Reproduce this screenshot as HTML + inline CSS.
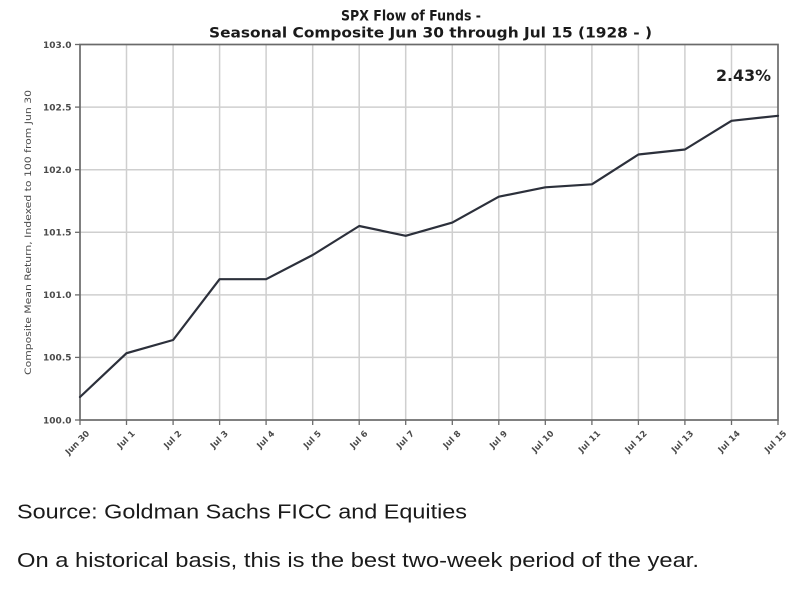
<!DOCTYPE html>
<html>
<head>
<meta charset="utf-8">
<style>
  html, body { margin: 0; padding: 0; background: #ffffff; }
  body { width: 809px; height: 590px; overflow: hidden; }
  svg { display: block; }
</style>
</head>
<body>
<svg width="809" height="590" viewBox="0 0 809 590" xmlns="http://www.w3.org/2000/svg">
  <rect x="0" y="0" width="809" height="590" fill="#ffffff"/>

  <!-- Title -->
  <text x="341" y="20.5" font-family="DejaVu Sans, sans-serif" font-weight="bold" font-size="14" fill="#1a1a1a" textLength="140" lengthAdjust="spacingAndGlyphs">SPX Flow of Funds -</text>
  <text x="209" y="37.5" font-family="DejaVu Sans, sans-serif" font-weight="bold" font-size="14" fill="#1a1a1a" textLength="443" lengthAdjust="spacingAndGlyphs">Seasonal Composite Jun 30 through Jul 15 (1928 - )</text>

  <!-- Grid -->
  <g stroke="#cfcfcf" stroke-width="1.5">
    <line x1="80" y1="107.1" x2="778" y2="107.1"/>
    <line x1="80" y1="169.7" x2="778" y2="169.7"/>
    <line x1="80" y1="232.3" x2="778" y2="232.3"/>
    <line x1="80" y1="294.9" x2="778" y2="294.9"/>
    <line x1="80" y1="357.4" x2="778" y2="357.4"/>

    <line x1="126.5" y1="44.5" x2="126.5" y2="420"/>
    <line x1="173.1" y1="44.5" x2="173.1" y2="420"/>
    <line x1="219.6" y1="44.5" x2="219.6" y2="420"/>
    <line x1="266.1" y1="44.5" x2="266.1" y2="420"/>
    <line x1="312.7" y1="44.5" x2="312.7" y2="420"/>
    <line x1="359.2" y1="44.5" x2="359.2" y2="420"/>
    <line x1="405.7" y1="44.5" x2="405.7" y2="420"/>
    <line x1="452.3" y1="44.5" x2="452.3" y2="420"/>
    <line x1="498.8" y1="44.5" x2="498.8" y2="420"/>
    <line x1="545.3" y1="44.5" x2="545.3" y2="420"/>
    <line x1="591.9" y1="44.5" x2="591.9" y2="420"/>
    <line x1="638.4" y1="44.5" x2="638.4" y2="420"/>
    <line x1="684.9" y1="44.5" x2="684.9" y2="420"/>
    <line x1="731.5" y1="44.5" x2="731.5" y2="420"/>
  </g>

  <!-- Spines -->
  <rect x="80" y="44.5" width="698" height="375.5" fill="none" stroke="#6a6a6a" stroke-width="1.7"/>

  <!-- Y ticks -->
  <g stroke="#6a6a6a" stroke-width="1.3">
    <line x1="75" y1="44.5" x2="80" y2="44.5"/>
    <line x1="75" y1="107.1" x2="80" y2="107.1"/>
    <line x1="75" y1="169.7" x2="80" y2="169.7"/>
    <line x1="75" y1="232.3" x2="80" y2="232.3"/>
    <line x1="75" y1="294.9" x2="80" y2="294.9"/>
    <line x1="75" y1="357.4" x2="80" y2="357.4"/>
    <line x1="75" y1="420" x2="80" y2="420"/>
  </g>
  <g font-family="DejaVu Sans, sans-serif" font-size="9" font-weight="bold" fill="#4a4a4a" text-anchor="end">
    <text x="71.5" y="47.8">103.0</text>
    <text x="71.5" y="110.4">102.5</text>
    <text x="71.5" y="173">102.0</text>
    <text x="71.5" y="235.6">101.5</text>
    <text x="71.5" y="298.2">101.0</text>
    <text x="71.5" y="360.7">100.5</text>
    <text x="71.5" y="423.3">100.0</text>
  </g>

  <!-- Y label -->
  <text transform="translate(31,232.5) rotate(-90)" text-anchor="middle" font-family="DejaVu Sans, sans-serif" font-size="8.5" fill="#4a4a4a" textLength="285" lengthAdjust="spacingAndGlyphs">Composite Mean Return, Indexed to 100 from Jun 30</text>

  <!-- X ticks -->
  <g stroke="#6a6a6a" stroke-width="1.3">
    <line x1="80" y1="420" x2="80" y2="425"/>
    <line x1="126.5" y1="420" x2="126.5" y2="425"/>
    <line x1="173.1" y1="420" x2="173.1" y2="425"/>
    <line x1="219.6" y1="420" x2="219.6" y2="425"/>
    <line x1="266.1" y1="420" x2="266.1" y2="425"/>
    <line x1="312.7" y1="420" x2="312.7" y2="425"/>
    <line x1="359.2" y1="420" x2="359.2" y2="425"/>
    <line x1="405.7" y1="420" x2="405.7" y2="425"/>
    <line x1="452.3" y1="420" x2="452.3" y2="425"/>
    <line x1="498.8" y1="420" x2="498.8" y2="425"/>
    <line x1="545.3" y1="420" x2="545.3" y2="425"/>
    <line x1="591.9" y1="420" x2="591.9" y2="425"/>
    <line x1="638.4" y1="420" x2="638.4" y2="425"/>
    <line x1="684.9" y1="420" x2="684.9" y2="425"/>
    <line x1="731.5" y1="420" x2="731.5" y2="425"/>
    <line x1="778" y1="420" x2="778" y2="425"/>
  </g>
  <g font-family="DejaVu Sans, sans-serif" font-size="8.5" font-weight="bold" fill="#4a4a4a" text-anchor="end">
    <text transform="translate(90,434) rotate(-45)">Jun 30</text>
    <text transform="translate(135.5,434) rotate(-45)">Jul 1</text>
    <text transform="translate(182.1,434) rotate(-45)">Jul 2</text>
    <text transform="translate(228.6,434) rotate(-45)">Jul 3</text>
    <text transform="translate(275.1,434) rotate(-45)">Jul 4</text>
    <text transform="translate(321.7,434) rotate(-45)">Jul 5</text>
    <text transform="translate(368.2,434) rotate(-45)">Jul 6</text>
    <text transform="translate(414.7,434) rotate(-45)">Jul 7</text>
    <text transform="translate(461.3,434) rotate(-45)">Jul 8</text>
    <text transform="translate(507.8,434) rotate(-45)">Jul 9</text>
    <text transform="translate(554.3,434) rotate(-45)">Jul 10</text>
    <text transform="translate(600.9,434) rotate(-45)">Jul 11</text>
    <text transform="translate(647.4,434) rotate(-45)">Jul 12</text>
    <text transform="translate(693.9,434) rotate(-45)">Jul 13</text>
    <text transform="translate(740.5,434) rotate(-45)">Jul 14</text>
    <text transform="translate(787,434) rotate(-45)">Jul 15</text>
  </g>

  <!-- Series -->
  <polyline fill="none" stroke="#2c303b" stroke-width="2.2" stroke-linejoin="round" stroke-linecap="round"
    points="80,397 126.5,353.2 173.1,340 219.6,279.2 266.1,279.2 312.7,255 359.2,226 405.7,235.8 452.3,222.6 498.8,196.7 545.3,187.3 591.9,184.3 638.4,154.5 684.9,149.5 731.5,120.8 778,115.8"/>

  <!-- Annotation -->
  <text x="716" y="81" font-family="DejaVu Sans, sans-serif" font-weight="bold" font-size="16" fill="#1e1e1e" textLength="55" lengthAdjust="spacingAndGlyphs">2.43%</text>

  <!-- Caption text -->
  <text x="17" y="518.5" font-family="Liberation Sans, Arial, sans-serif" font-size="20.5" fill="#1a1a1a" textLength="450" lengthAdjust="spacingAndGlyphs">Source: Goldman Sachs FICC and Equities</text>
  <text x="17" y="567" font-family="Liberation Sans, Arial, sans-serif" font-size="20.5" fill="#1a1a1a" textLength="682" lengthAdjust="spacingAndGlyphs">On a historical basis, this is the best two-week period of the year.</text>
</svg>
</body>
</html>
